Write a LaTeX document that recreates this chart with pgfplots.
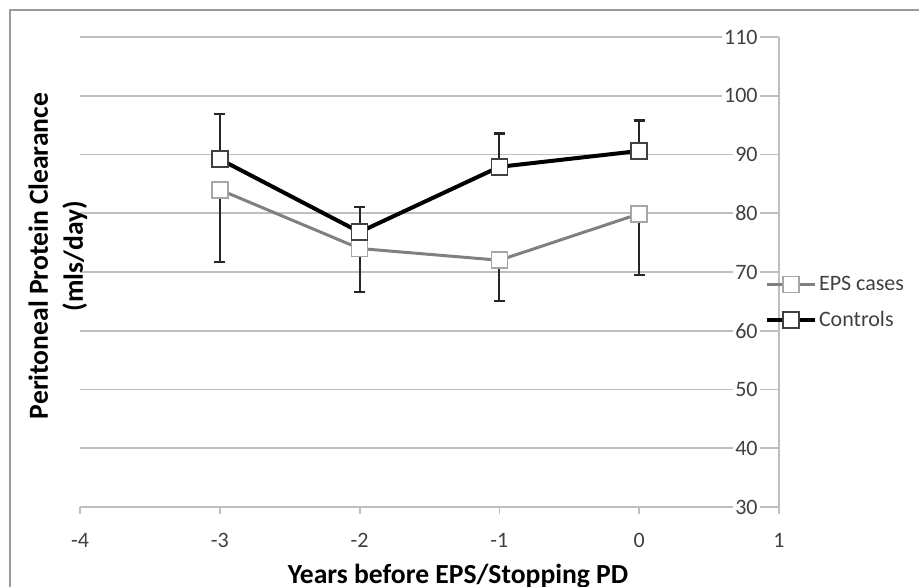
\documentclass[border=0pt]{standalone}
\usepackage{pgfplots}
\pgfplotsset{compat=1.18}
\usepackage{pgfplotstable}
\usepackage{fontspec}
\setmainfont{Carlito}

\definecolor{gridc}{HTML}{BFBFBF}
\definecolor{epsc}{HTML}{808080}
\definecolor{epsedge}{HTML}{A6A6A6}
\definecolor{ctledge}{HTML}{404040}
\definecolor{tickc}{HTML}{404040}
\definecolor{framec}{HTML}{9A9A9A}

\pgfplotstableread{
x    y     e
-3   89.2  7.7
-2   76.8  4.3
-1   87.9  5.7
0    90.6  5.2
}\controls

\pgfplotstableread{
x    y     e
-3   84.0  12.3
-2   74.0  7.4
-1   72.0  6.9
0    79.9  10.4
}\eps

\begin{document}
\begin{tikzpicture}
\useasboundingbox (-40pt,-40pt) rectangle (419.5pt,253.5pt);
\begin{scope}
\clip (-40pt,-40pt) rectangle (419.5pt,253.5pt);
\draw[framec, line width=0.8pt] (-35pt,248.5pt) rectangle (450pt,-70pt);
\end{scope}
\begin{axis}[
  at={(0,0)}, anchor=south west,
  scale only axis,
  width=349.5pt, height=235pt,
  xmin=-4, xmax=1, ymin=30, ymax=110,
  xtick={-4,-3,-2,-1,0,1},
  ytick={30,40,50,60,70,80,90,100,110},
  axis x line=bottom, axis y line=right,
  axis line style={-, gridc, line width=0.9pt},
  ymajorgrids,
  grid style={gridc, line width=0.9pt},
  xtick style={gridc, line width=0.9pt},
  tick align=outside,
  major tick length=3.5pt,
  ytick style={draw=none},
  /pgf/number format/assume math mode=true,
  ticklabel style={font=\fontsize{11}{13}\selectfont, text=tickc},
  xticklabel style={yshift=-6pt},
  yticklabel style={anchor=east, xshift=-13pt, fill=white, inner sep=1pt},
  xlabel={Years before EPS/Stopping PD},
  xlabel style={at={(axis description cs:0.5408,0)}, anchor=base, yshift=-38pt, font=\fontsize{13.8}{15}\selectfont\bfseries},
  ylabel={Peritoneal Protein Clearance\\(mls/day)},
  ylabel style={at={(axis description cs:-0.0315,0.534)}, anchor=center, rotate=0, align=center, font=\fontsize{13.8}{17.5}\selectfont\bfseries},
  legend style={draw=none, fill=none, inner sep=0pt, outer sep=0pt,
    at={(axis description cs:0.9800,0.435)}, anchor=west,
    nodes={inner sep=1pt, font=\fontsize{11}{13}\selectfont, text=tickc},
    row sep=7pt},
  legend cell align=left,
  legend image code/.code={\draw[mark repeat=2, mark phase=2, #1] plot coordinates {(0pt,0pt) (12pt,0pt) (24pt,0pt)};},
  clip=false,
]
\addplot[epsc, line width=1.5pt, mark=square*, mark size=4pt,
  mark options={fill=white, draw=epsedge, line width=0.8pt},
  error bars/.cd, y dir=minus, y explicit,
  error bar style={black!85, line width=1pt},
  error mark options={rotate=90, mark size=2.75pt, line width=1.2pt, black!85}]
  table[x=x, y=y, y error=e] {\eps};
\addlegendentry{EPS cases}
\addplot[black, line width=2pt, mark=square*, mark size=4pt,
  mark options={fill=white, draw=ctledge, line width=0.8pt},
  error bars/.cd, y dir=plus, y explicit,
  error bar style={black!85, line width=1pt},
  error mark options={rotate=90, mark size=2.75pt, line width=1.2pt, black!85}]
  table[x=x, y=y, y error=e] {\controls};
\addlegendentry{Controls}
\end{axis}
\end{tikzpicture}
\end{document}
